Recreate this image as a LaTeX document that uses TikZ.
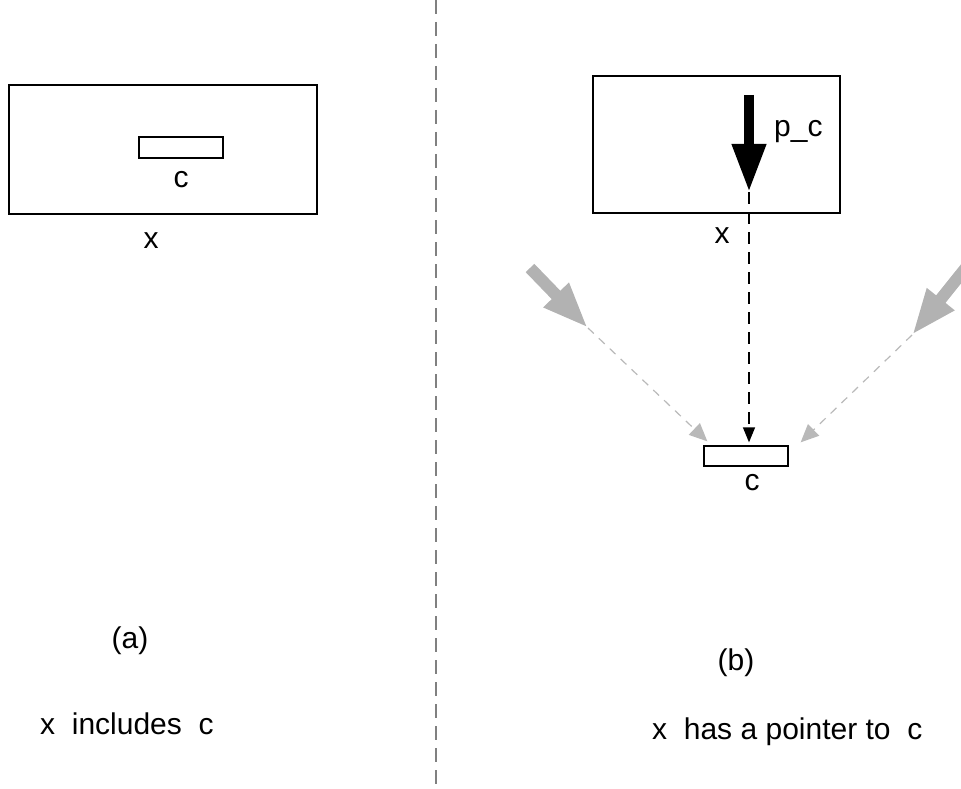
\documentclass[tikz,border=0pt]{standalone}
\usepackage{fontspec}
\setmainfont{Liberation Sans}
\usetikzlibrary{arrows.meta}
\definecolor{divgray}{RGB}{128,128,128}
\definecolor{ptrgray}{RGB}{178,178,178}
\definecolor{dashgray}{RGB}{185,185,185}
\begin{document}
\begin{tikzpicture}[x=1pt,y=-1pt,
  every node/.style={font=\fontsize{30}{36}\selectfont, inner sep=0pt},
  objbox/.style={draw=black, line width=1.3pt},
  divider/.style={divgray, line width=2pt, dash pattern=on 14pt off 8pt},
  ptrthick/.style={line width=10pt, -{Triangle[length=48pt,width=32pt]}},
  ptrgraythick/.style={ptrgray, line width=12pt, -{Triangle[length=46pt,width=32pt]}},
  ptrdash/.style={black, line width=1.3pt, dash pattern=on 12pt off 8pt,
    -{Triangle[length=15pt,width=12pt]}},
  graydash/.style={dashgray, line width=1.2pt, dash pattern=on 8pt off 7pt,
    -{Triangle[length=18pt,width=16pt]}}]
\useasboundingbox (0,0) rectangle (961,789);
\clip (0,0) rectangle (961,789);

% dividing line between the two cases
\coordinate (divtop) at (436,0);
\coordinate (divbot) at (436,789);
\draw[divider] (divtop) -- (divbot);

% (a): c is contained in x
\node[objbox, minimum width=308pt, minimum height=129pt] (xa) at (163,149.5) {};
\node[objbox, minimum width=84pt, minimum height=21pt] (ca) at (181,147.5) {};
\node[anchor=base] (calabel) at (181,187) {c};
\node[anchor=base] (xalabel) at (151,248) {x};
\node[anchor=base] (alabel) at (130,648) {(a)};
\node[anchor=base west] (acap) at (40,734) {x\ \ includes\ \ c};

% (b): x holds a pointer to c
\node[objbox, minimum width=247pt, minimum height=137pt] (xb) at (716.5,144.5) {};
\node[objbox, minimum width=84pt, minimum height=20pt] (cb) at (746,456) {};
\node[anchor=base west] (pclabel) at (774,136) {p\_c};
\node[anchor=base] (xblabel) at (722,243) {x};
\node[anchor=base] (cblabel) at (752,490) {c};
\node[anchor=base] (blabel) at (736,670) {(b)};
\node[anchor=base west] (bcap) at (652,739) {x\ \ has a pointer to\ \ c};

% pointer p_c and the reference it holds
\coordinate (pctail) at (749,95);
\coordinate (pchead) at (749,192);
\draw[ptrthick] (pctail) -- (pchead);
\draw[ptrdash] (pchead) -- ([yshift=3pt]pchead |- cb.north);

% other pointers that may refer to the same c
\coordinate (gltail) at (530,268);
\coordinate (glhead) at (588,328);
\draw[ptrgraythick] (gltail) -- (glhead);
\draw[graydash] (glhead) -- ([xshift=4pt,yshift=4pt]cb.north west);

\coordinate (grtail) at (993,234);
\coordinate (grhead) at (912,335);
\draw[ptrgraythick] (grtail) -- (grhead);
\draw[graydash] (grhead) -- ([xshift=12pt,yshift=3pt]cb.north east);
\end{tikzpicture}
\end{document}
